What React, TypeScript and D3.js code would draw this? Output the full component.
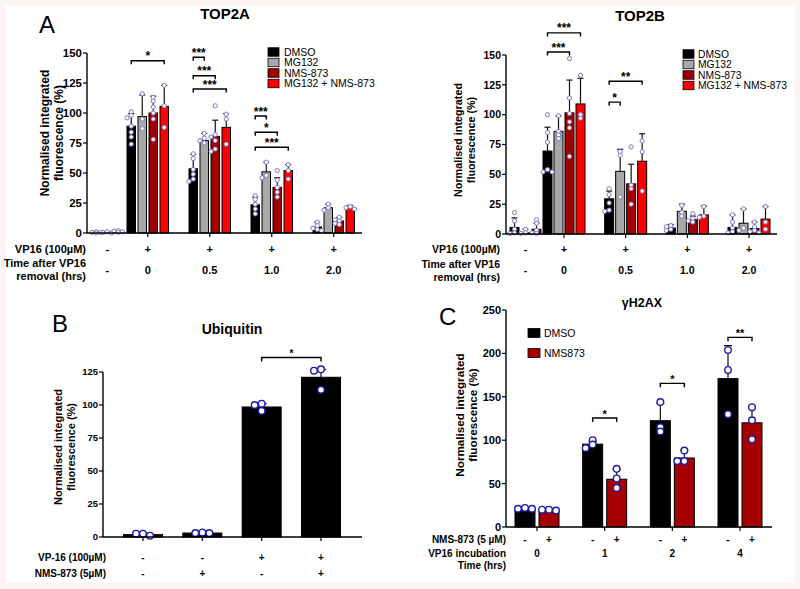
import React from "react";
import * as d3 from "d3";

const FONT = "'Liberation Sans', Arial, Helvetica, sans-serif";

// ---------------- Panel A : TOP2A / TOP2B ----------------
const top2Series = ["DMSO", "MG132", "NMS-873", "MG132 + NMS-873"];
const top2Colors = ["#000000", "#a8a8a8", "#a00000", "#ff0000"];
const top2VP16 = ["-", "+", "+", "+", "+"];
const top2Time = ["-", "0", "0.5", "1.0", "2.0"];
const top2YTicks = [0, 25, 50, 75, 100, 125, 150];

const top2aMeans = [
  [0.5, 0.5, 1],
  [89, 97, 100, 105.5],
  [53.5, 77, 80.5, 88],
  [23.5, 51, 38, 52],
  [5, 21, 10, 21],
];
const top2aSD = [
  [0.5, 0.5, 0.8],
  [10.5, 18, 14, 17.5],
  [12, 6, 13.5, 11.5],
  [6.5, 8, 8, 5],
  [4, 3, 3, 2],
];
const top2aPoints = [
  [[0, 0.5, 1, 0.5], [0.5, 0, 1], [1, 2, 0.5, 1.5]],
  [[101, 98, 96, 89, 84, 80, 74], [116, 95, 87], [113, 110, 105, 100, 95, 78], [123, 106, 88]],
  [[66, 62, 53, 49, 45, 43], [83, 79, 77, 75], [106, 82, 80, 77, 70, 68], [99, 95, 74]],
  [[31, 28, 24, 20, 16], [59, 48, 46], [52, 44, 38, 34, 30], [57, 52, 45]],
  [[9, 6, 4, 3, 2], [24, 21, 19], [13, 11, 10, 8, 7], [22, 21, 20]],
];
const top2aSig = [
  { g: 1, a: 0, b: 3, level: 143.5, label: "*" },
  { g: 2, a: 0, b: 1, level: 146.5, label: "***" },
  { g: 2, a: 0, b: 2, level: 131, label: "***" },
  { g: 2, a: 0, b: 3, level: 120, label: "***" },
  { g: 3, a: 0, b: 1, level: 97.5, label: "***" },
  { g: 3, a: 0, b: 2, level: 84, label: "*" },
  { g: 3, a: 0, b: 3, level: 71.5, label: "***" },
];

const top2bMeans = [
  [5.5, 1, 4],
  [69.5, 86, 101.5, 109],
  [29.5, 52.5, 42, 61],
  [5, 19, 12, 16],
  [5.5, 9, 4.5, 12.5],
];
const top2bSD = [
  [8, 3, 5],
  [20, 13, 27.5, 21.5],
  [6.5, 18.5, 16.5, 23],
  [3, 6, 3, 7.5],
  [10.5, 12, 5.5, 10.5],
];
const top2bPoints = [
  [[18, 11, 4, 1, 0.5], [4, 1, 0.5], [12, 9, 3, 1, 0.5]],
  [[100, 85, 77, 54, 52, 52], [99, 86, 83, 80], [147, 114, 101, 94, 89, 65], [133, 100, 97]],
  [[38, 33, 26, 20, 19], [69, 66, 31], [73, 41, 38, 25], [78, 69, 36]],
  [[7, 6, 4, 3], [24, 18, 15], [17, 13, 11, 10], [23, 15, 14]],
  [[16, 10, 5, 2, 1], [21, 5, 3], [10, 6, 3, 2, 1], [23, 10, 4]],
];
const top2bSig = [
  { g: 1, a: 0, b: 3, level: 168.5, label: "***" },
  { g: 1, a: 0, b: 2, level: 152.5, label: "***" },
  { g: 2, a: 0, b: 3, level: 128, label: "**" },
  { g: 2, a: 0, b: 1, level: 110.5, label: "*" },
];

// ---------------- Panel B : Ubiquitin ----------------
const ubiVP16 = ["-", "-", "+", "+"];
const ubiNMS = ["-", "+", "-", "+"];
const ubiYTicks = [0, 25, 50, 75, 100, 125];
const ubiMeans = [1.8, 3, 98.5, 121];
const ubiSD = [0.6, 0.4, 2.5, 6];
const ubiPoints = [[1, 2.5, 2.5], [3, 3.5, 3], [101, 95.5, 100], [127, 111.5, 126]];
const ubiSig = [{ a: 2, b: 3, level: 136, label: "*" }];

// ---------------- Panel C : gammaH2AX ----------------
const h2axSeries = ["DMSO", "NMS873"];
const h2axColors = ["#000000", "#a50000"];
const h2axNMS = ["-", "+"];
const h2axTime = ["0", "1", "2", "4"];
const h2axYTicks = [0, 50, 100, 150, 200, 250];
const h2axDMSO = [20.5, 95.5, 122.5, 171];
const h2axDMSOsd = [1, 3, 20, 38];
const h2axNMS873 = [19.5, 55, 79.5, 120];
const h2axNMS873sd = [1, 11.5, 9, 18];
const h2axDMSOpts = [[21, 21, 22], [100, 95, 91], [144, 115, 110], [204, 181, 130]];
const h2axNMSpts = [[19, 20, 20], [67, 56, 45], [88, 76, 76], [138, 123, 101]];
const h2axSig = [
  { g: 1, level: 125.5, label: "*" },
  { g: 2, level: 165.5, label: "*" },
  { g: 3, level: 218.5, label: "**" },
];

// ---------------- helpers ----------------
function swarm(vals: number[], y: (v: number) => number, cx: number, r: number, maxOff: number) {
  const placed: { x: number; y: number }[] = [];
  const ys = vals.map((v) => y(v)).sort((a, b) => a - b);
  const d = 2 * r + 0.4;
  const minDist = 1.3 * r;
  for (const py of ys) {
    const cands = [0, -1, 1, -2, 2].map((k) => Math.max(-maxOff, Math.min(maxOff, k * d)));
    let best = 0;
    for (const o of cands) {
      if (placed.every((p) => Math.hypot(p.x - (cx + o), p.y - py) >= minDist)) {
        best = o;
        break;
      }
    }
    placed.push({ x: cx + best, y: py });
  }
  return placed;
}

type Cfg = {
  key: string;
  means: (number | null)[][];
  sds: number[][];
  points: number[][][];
  colors: string[];
  barLeft: (g: number, i: number) => number;
  barW: number;
  y: d3.ScaleLinear<number, number>;
  capW: number;
  ptR: number;
  ptStroke: string;
  ptStrokeW: number;
};

function Bars({ cfg }: { cfg: Cfg }) {
  const els: React.ReactNode[] = [];
  const y0 = cfg.y(0);
  cfg.means.forEach((grp, g) => {
    grp.forEach((m, i) => {
      if (m === null || m === undefined) return;
      const x = cfg.barLeft(g, i);
      const yt = cfg.y(m);
      const cx = x + cfg.barW / 2;
      els.push(
        <rect key={`${cfg.key}b${g}-${i}`} x={x} y={yt} width={cfg.barW} height={Math.max(0.5, y0 - yt)}
          fill={cfg.colors[i]} stroke="#000" strokeWidth={1} />
      );
      const sd = cfg.sds[g][i];
      const ye = cfg.y(m + sd);
      els.push(
        <g key={`${cfg.key}e${g}-${i}`} stroke="#111" strokeWidth={1.2}>
          <line x1={cx} x2={cx} y1={yt} y2={ye} />
          <line x1={cx - cfg.capW / 2} x2={cx + cfg.capW / 2} y1={ye} y2={ye} />
        </g>
      );
    });
  });
  cfg.means.forEach((grp, g) => {
    grp.forEach((m, i) => {
      if (m === null || m === undefined) return;
      const cx = cfg.barLeft(g, i) + cfg.barW / 2;
      const pts = swarm(cfg.points[g][i] || [], cfg.y, cx, cfg.ptR, cfg.barW / 2);
      pts.forEach((p, j) =>
        els.push(
          <circle key={`${cfg.key}p${g}-${i}-${j}`} cx={p.x} cy={p.y} r={cfg.ptR} fill="#fff"
            stroke={cfg.ptStroke} strokeWidth={cfg.ptStrokeW} />
        )
      );
    });
  });
  return <g>{els}</g>;
}

function YAxis({ x, y, ticks, size, xEnd, xTicks }: { x: number; y: d3.ScaleLinear<number, number>; ticks: number[]; size: number; xEnd: number; xTicks: number[] }) {
  const [d0, d1] = y.domain();
  return (
    <g>
      <line x1={x} x2={x} y1={y(d0)} y2={y(d1)} stroke="#000" strokeWidth={1.4} />
      <line x1={x} x2={xEnd} y1={y(d0)} y2={y(d0)} stroke="#000" strokeWidth={1.4} />
      {ticks.map((t) => (
        <g key={t}>
          <line x1={x - 4} x2={x} y1={y(t)} y2={y(t)} stroke="#000" strokeWidth={1.2} />
          <text x={x - 5} y={y(t) + size * 0.36} textAnchor="end" fontSize={size} fontWeight="bold">{t}</text>
        </g>
      ))}
      {xTicks.map((t, i) => (
        <line key={"xt" + i} x1={t} x2={t} y1={y(d0)} y2={y(d0) + 4} stroke="#000" strokeWidth={1.2} />
      ))}
    </g>
  );
}

function YLabel({ x1, x2, yc, size }: { x1: number; x2: number; yc: number; size: number }) {
  return (
    <g fontWeight="bold" fontSize={size} textAnchor="middle">
      <text transform={`translate(${x1},${yc}) rotate(-90)`}>Normalised integrated</text>
      <text transform={`translate(${x2},${yc}) rotate(-90)`}>fluorescence (%)</text>
    </g>
  );
}

function Bracket({ x1, x2, y, label, size, drop }: { x1: number; x2: number; y: number; label: string; size: number; drop: number }) {
  return (
    <g>
      <path d={`M${x1},${y + drop}V${y}H${x2}V${y + drop}`} fill="none" stroke="#000" strokeWidth={1.4} />
      <text x={(x1 + x2) / 2} y={y - 0.5} textAnchor="middle" fontSize={size} fontWeight="bold">{label}</text>
    </g>
  );
}

function Legend({ x, y0, dy, w, h, names, colors, size, tx }: any) {
  return (
    <g>
      {names.map((n: string, i: number) => (
        <g key={n}>
          <rect x={x} y={y0 + i * dy - h / 2} width={w} height={h} fill={colors[i]} stroke="#000" strokeWidth={0.8} />
          <text x={tx} y={y0 + i * dy + size * 0.36} fontSize={size}>{n}</text>
        </g>
      ))}
    </g>
  );
}

function Top2Panel(props: {
  title: string; titleX: number; axisX: number; xEnd: number; yTop: number; yBottom: number;
  lefts: [number, number, number]; barW: number; means: (number | null)[][]; sds: number[][]; points: number[][][];
  sigs: { g: number; a: number; b: number; level: number; label: string }[]; tickSize: number; labSize: number;
  lab: { x1: number; x2: number; yc: number; size: number }; legX: number; legTX: number; legSize: number; rowRight: number;
  rowY: [number, number, number, number]; key0: string;
}) {
  const y = d3.scaleLinear().domain([0, 150]).range([props.yBottom, props.yTop]);
  const step = 11;
  const leftScale = d3.scaleLinear().domain([0, 1, 4]).range(props.lefts);
  const barLeft = (g: number, i: number) => leftScale(g) + i * step;
  const center = (g: number) => barLeft(g, 0) + ((props.means[g].length - 1) * step) / 2 + props.barW / 2;
  const cfg: Cfg = {
    key: props.key0, means: props.means, sds: props.sds, points: props.points, colors: top2Colors,
    barLeft, barW: props.barW, y, capW: 6, ptR: 2.1, ptStroke: "#7a7ac0", ptStrokeW: 1,
  };
  const groups = d3.range(props.means.length);
  return (
    <g>
      <text x={props.titleX} y={props.yTop - 34} textAnchor="middle" fontSize={15} fontWeight="bold">{props.title}</text>
      <YLabel {...props.lab} />
      <Bars cfg={cfg} />
      <YAxis x={props.axisX} y={y} ticks={top2YTicks} size={props.tickSize} xEnd={props.xEnd}
        xTicks={groups.slice(1).map((g) => center(g))} />
      {props.sigs.map((s, k) => (
        <Bracket key={k} x1={barLeft(s.g, s.a) + props.barW / 2} x2={barLeft(s.g, s.b) + props.barW / 2}
          y={y(s.level)} label={s.label} size={12} drop={3.5} />
      ))}
      <Legend x={props.legX} y0={props.yTop - 1} dy={10.5} w={11} h={8.5} names={top2Series} colors={top2Colors}
        size={props.legSize} tx={props.legTX} />
      <g fontWeight="bold" fontSize={props.labSize}>
        <text x={props.rowRight} y={props.rowY[0]} textAnchor="end">VP16 (100µM)</text>
        <text x={props.rowRight} y={props.rowY[1]} textAnchor="end">Time after VP16</text>
        <text x={props.rowRight} y={props.rowY[2]} textAnchor="end">removal (hrs)</text>
        {groups.map((g) => (
          <g key={g}>
            <text x={center(g)} y={props.rowY[0]} textAnchor="middle">{top2VP16[g]}</text>
            <text x={center(g)} y={props.rowY[3]} textAnchor="middle">{top2Time[g]}</text>
          </g>
        ))}
      </g>
    </g>
  );
}

function UbiPanel() {
  const y = d3.scaleLinear().domain([0, 125]).range([537, 372]);
  const xc = d3.scalePoint<number>().domain(d3.range(ubiMeans.length)).range([143, 321]);
  const barW = 39;
  const cfg: Cfg = {
    key: "ub", means: ubiMeans.map((m) => [m]), sds: ubiSD.map((s) => [s]), points: ubiPoints.map((p) => [p]),
    colors: ["#000"], barLeft: (g) => (xc(g) as number) - barW / 2, barW, y, capW: 10, ptR: 3.3,
    ptStroke: "#1c1ca8", ptStrokeW: 1.4,
  };
  return (
    <g>
      <text x={52} y={332} fontSize={24}>B</text>
      <text x={232} y={334} textAnchor="middle" fontSize={14} fontWeight="bold">Ubiquitin</text>
      <YLabel x1={62} x2={75} yc={447} size={11} />
      <Bars cfg={cfg} />
      <YAxis x={103} y={y} ticks={ubiYTicks} size={9.5} xEnd={362} xTicks={d3.range(4).map((g) => xc(g) as number)} />
      {ubiSig.map((s, k) => (
        <Bracket key={k} x1={xc(s.a) as number} x2={xc(s.b) as number} y={y(s.level)} label={s.label} size={10} drop={4} />
      ))}
      <g fontWeight="bold" fontSize={10}>
        <text x={106} y={561} textAnchor="end">VP-16 (100µM)</text>
        <text x={106} y={577} textAnchor="end">NMS-873 (5µM)</text>
        {d3.range(4).map((g) => (
          <g key={g}>
            <text x={xc(g) as number} y={561} textAnchor="middle">{ubiVP16[g]}</text>
            <text x={xc(g) as number} y={577} textAnchor="middle">{ubiNMS[g]}</text>
          </g>
        ))}
      </g>
    </g>
  );
}

function H2axPanel() {
  const y = d3.scaleLinear().domain([0, 250]).range([527, 310]);
  const xc = d3.scalePoint<number>().domain(d3.range(h2axTime.length)).range([537, 740]);
  const barW = 20;
  const barLeft = (g: number, i: number) => (xc(g) as number) - 22 + i * 24;
  const cfg: Cfg = {
    key: "h2", means: h2axDMSO.map((m, g) => [m, h2axNMS873[g]]),
    sds: h2axDMSOsd.map((s, g) => [s, h2axNMS873sd[g]]),
    points: h2axDMSOpts.map((p, g) => [p, h2axNMSpts[g]]),
    colors: h2axColors, barLeft, barW, y, capW: 8, ptR: 3.3, ptStroke: "#1c1ca8", ptStrokeW: 1.4,
  };
  return (
    <g>
      <text x={439} y={325} fontSize={24}>C</text>
      <text x={642} y={307} textAnchor="middle" fontSize={12.5} fontWeight="bold">γH2AX</text>
      <YLabel x1={464} x2={477} yc={415} size={11.7} />
      <Bars cfg={cfg} />
      <YAxis x={506} y={y} ticks={h2axYTicks} size={11} xEnd={772} xTicks={d3.range(4).map((g) => xc(g) as number)} />
      {h2axSig.map((s, k) => (
        <Bracket key={k} x1={barLeft(s.g, 0) + barW / 2} x2={barLeft(s.g, 1) + barW / 2} y={y(s.level)}
          label={s.label} size={11} drop={4} />
      ))}
      <Legend x={528} y0={333} dy={20} w={12} h={9} names={h2axSeries} colors={h2axColors} size={10.5} tx={544} />
      <g fontWeight="bold" fontSize={10}>
        <text x={506} y={543} textAnchor="end">NMS-873 (5 µM)</text>
        <text x={506} y={557} textAnchor="end">VP16 incubation</text>
        <text x={506} y={569} textAnchor="end">Time (hrs)</text>
        {d3.range(4).map((g) => (
          <g key={g}>
            {h2axNMS.map((s, i) => (
              <text key={i} x={barLeft(g, i) + barW / 2} y={543} textAnchor="middle">{s}</text>
            ))}
            <text x={xc(g) as number} y={557} textAnchor="middle">{h2axTime[g]}</text>
          </g>
        ))}
      </g>
    </g>
  );
}

export default function App() {
  return (
    <svg width={800} height={589} style={{ position: "absolute", left: 0, top: 0, fontFamily: FONT }}>
      <rect x={0} y={0} width={800} height={589} fill="#fcf5f3" />
      <rect x={5} y={5} width={790} height={578} fill="#ffffff" />
      <text x={39} y={33} fontSize={24}>A</text>
      <Top2Panel key0="ta" title="TOP2A" titleX={225} axisX={87} xEnd={362} yTop={53} yBottom={233}
        lefts={[92, 127, 313]} barW={8.5} means={top2aMeans} sds={top2aSD} points={top2aPoints} sigs={top2aSig}
        tickSize={11.5} labSize={11} lab={{ x1: 49, x2: 62.5, yc: 133, size: 12 }} legX={268} legTX={284}
        legSize={10.5} rowRight={86} rowY={[253, 267, 280, 274]} />
      <Top2Panel key0="tb" title="TOP2B" titleX={640} axisX={506} xEnd={777} yTop={55} yBottom={234}
        lefts={[510, 543, 728]} barW={9} means={top2bMeans} sds={top2bSD} points={top2bPoints} sigs={top2bSig}
        tickSize={10.5} labSize={10.5} lab={{ x1: 462, x2: 475, yc: 140, size: 10.8 }} legX={683} legTX={698}
        legSize={10.3} rowRight={500} rowY={[253, 268, 281, 274]} />
      <UbiPanel />
      <H2axPanel />
    </svg>
  );
}
